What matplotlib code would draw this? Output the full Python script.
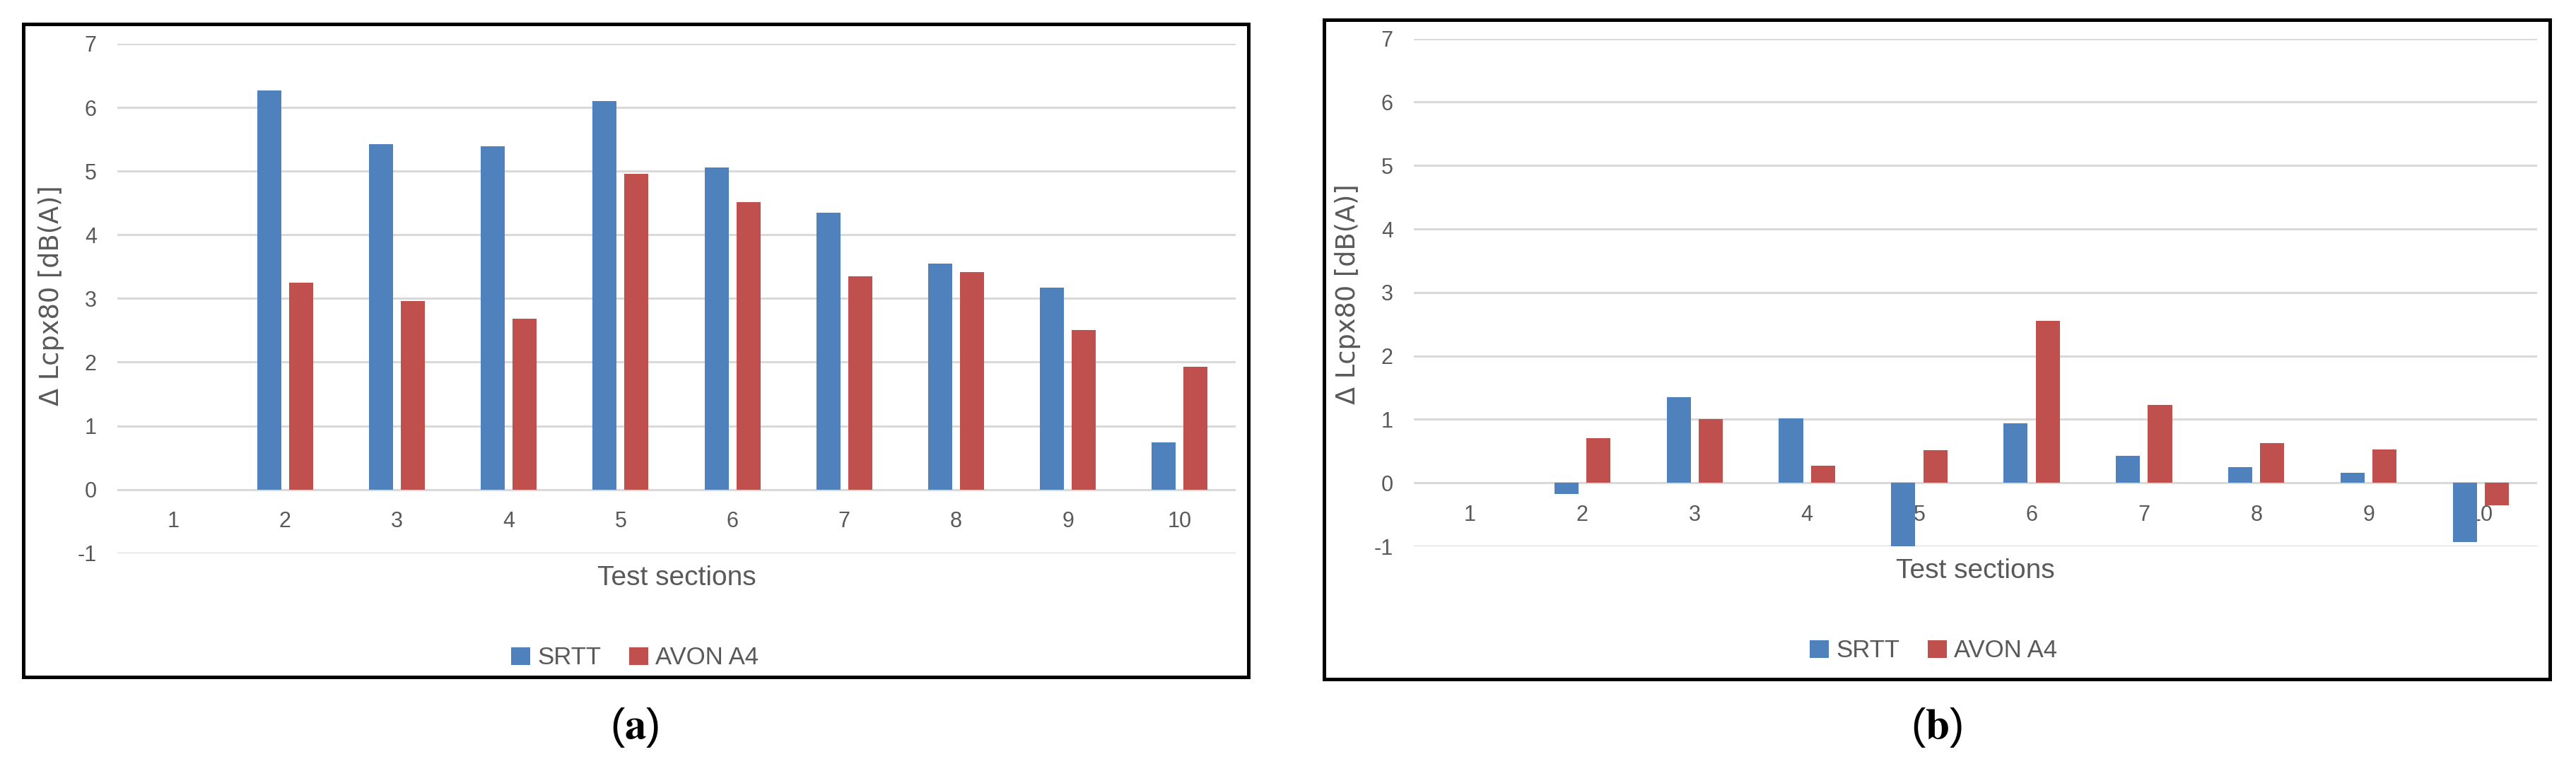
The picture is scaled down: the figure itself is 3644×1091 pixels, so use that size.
import numpy as np
import matplotlib.pyplot as plt
from matplotlib.patches import Rectangle

# data
sections = [1, 2, 3, 4, 5, 6, 7, 8, 9, 10]
srtt_a = [0, 6.27, 5.42, 5.39, 6.10, 5.06, 4.35, 3.55, 3.17, 0.74]
avon_a = [0, 3.25, 2.96, 2.68, 4.96, 4.51, 3.35, 3.42, 2.50, 1.93]
srtt_b = [0, -0.18, 1.35, 1.02, -1.01, 0.94, 0.43, 0.25, 0.16, -0.93]
avon_b = [0, 0.71, 1.00, 0.27, 0.51, 2.55, 1.23, 0.63, 0.53, -0.35]
y_ticks = [-1, 0, 1, 2, 3, 4, 5, 6, 7]
series_names = ['SRTT', 'AVON A4']

BLUE = '#4F81BD'
RED = '#C0504D'
GREY = '#595959'
GRID = '#D9D9D9'
W, H = 3644, 1091

plt.rcParams['font.family'] = ['Liberation Sans', 'DejaVu Sans']
plt.rcParams['mathtext.fontset'] = 'stix'

fig = plt.figure(figsize=(W / 100, H / 100), dpi=100)


def fx(px):
    return px / W


def fy(py):
    return 1 - py / H


def draw_panel(rect, srtt, avon):
    left, top, right, bottom = rect
    ax = fig.add_axes([fx(left), fy(bottom), fx(right - left), fy(top) - fy(bottom)])
    x = np.array(sections)
    b1 = ax.bar(x - 0.1425, srtt, width=0.215, color=BLUE, label=series_names[0])
    b2 = ax.bar(x + 0.1425, avon, width=0.215, color=RED, label=series_names[1])
    ax.set_xlim(0.5, 10.5)
    ax.set_ylim(-1, 7)
    ax.set_yticks(y_ticks)
    ax.set_yticklabels([str(t) for t in y_ticks])
    ax.set_xticks(sections)
    ax.set_xticklabels([str(s) for s in sections])
    ax.yaxis.grid(True, color=GRID, linewidth=2.2)
    ax.set_axisbelow(True)
    for s in ['top', 'right', 'left']:
        ax.spines[s].set_visible(False)
    # category labels sit just under the zero line, as in Excel
    ax.spines['bottom'].set_position(('data', 0))
    ax.spines['bottom'].set_color('none')
    ax.tick_params(axis='both', length=0, labelsize=22, labelcolor=GREY)
    ax.tick_params(axis='y', pad=21)
    ax.tick_params(axis='x', pad=22)
    ax.text(0.5, -0.0485, 'Test sections', transform=ax.transAxes,
            ha='center', va='center', fontsize=28, color=GREY)
    return ax, b1, b2


ax_a, ha1, ha2 = draw_panel((166, 61.9, 1748, 782.8), srtt_a, avon_a)
ax_b, hb1, hb2 = draw_panel((2000, 54.6, 3589, 773.1), srtt_b, avon_b)

# black frames round each chart
for (l, t, r, b) in [(33, 34, 1766, 958), (1873, 28, 3607, 961)]:
    fig.patches.append(Rectangle((fx(l), fy(b)), fx(r - l), fy(t) - fy(b),
                                 transform=fig.transFigure, fill=False,
                                 edgecolor='black', linewidth=3.6))

# y axis titles
ylab = '\u0394 Lcpx80 [dB(A)]'
fig.text(fx(73), fy(418), ylab, rotation=90, ha='center', va='center',
         fontsize=26.5, color=GREY, family=['DejaVu Sans'])
fig.text(fx(1906), fy(416), ylab, rotation=90, ha='center', va='center',
         fontsize=26.5, color=GREY, family=['DejaVu Sans'])

# legends
for handles, cx, cy in [((ha1, ha2), 898, 931), ((hb1, hb2), 2735, 921)]:
    fig.legend(handles, series_names, loc='center', ncol=2, frameon=False,
               bbox_to_anchor=(fx(cx), fy(cy)), fontsize=25, labelcolor=GREY,
               handlelength=0.78, handleheight=0.75, handletextpad=0.3,
               columnspacing=1.15, borderpad=0, borderaxespad=0)

# panel captions
fig.text(fx(898), fy(1029), r'($\mathbf{a}$)', ha='center', va='center', fontsize=44)
fig.text(fx(2739), fy(1029), r'($\mathbf{b}$)', ha='center', va='center', fontsize=44)

fig.savefig('out.png', dpi=100)
